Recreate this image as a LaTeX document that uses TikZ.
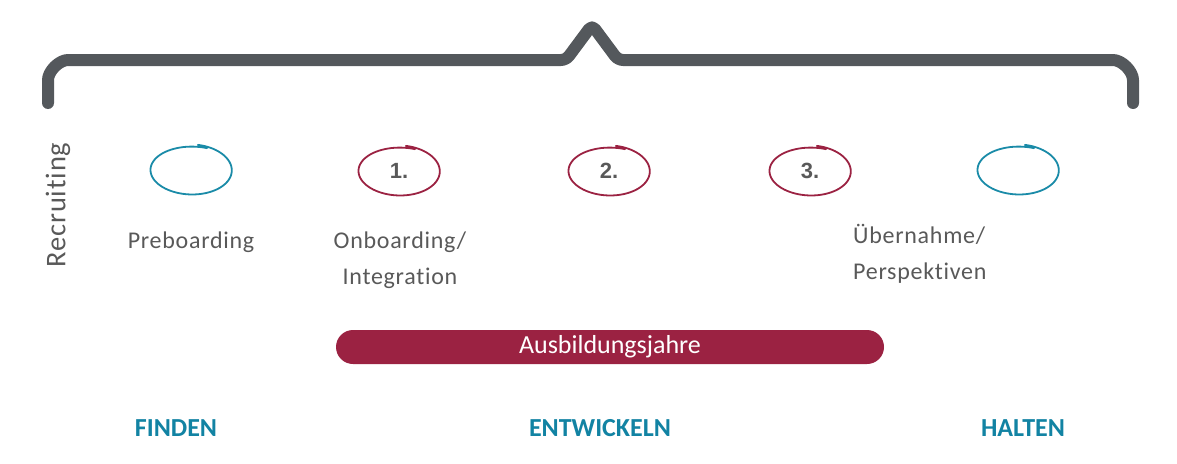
\documentclass[tikz,border=0pt]{standalone}
\usepackage{fontspec}
\setmainfont{Carlito}
\newfontfamily\lblfont[LetterSpace=3, Ligatures=NoCommon]{Carlito}
\newfontfamily\numfont{Liberation Sans}
\definecolor{bracegray}{HTML}{54585C}
\definecolor{txtgray}{HTML}{595959}
\definecolor{tealblue}{HTML}{1A8BA8}
\definecolor{headblue}{HTML}{1283A3}
\definecolor{crimson}{HTML}{9B2242}
\tikzset{
  bracestyle/.style={draw=bracegray, line width=12pt, line cap=round, line join=round, rounded corners=5pt},
  lbl/.style={text=txtgray, font=\lblfont\fontsize{24}{36}\selectfont, align=center, inner sep=0pt},
  num/.style={text=txtgray, font=\numfont\bfseries\fontsize{22}{24}\selectfont, inner sep=0pt},
  head/.style={text=headblue, font=\bfseries\fontsize{26}{28}\selectfont, inner sep=0pt},
  hand/.style={line width=1.8pt, line cap=round, line join=round},
}
\newcommand{\handoval}[2]{%
  \begin{scope}[shift={(#1)}]
    \draw[hand, draw=#2] plot[domain=-80:290, samples=80, smooth, variable=\t]
      ({(40+0.006*(\t+80))*cos(\t) + 0.004*(\t+80)}, {(25.5-0.006*(\t+80))*sin(\t)});
  \end{scope}}
\begin{document}
\begin{tikzpicture}[x=1pt, y=-1pt]
\useasboundingbox (0,0) rectangle (1177,463);
% brace
\draw[bracestyle] (48,103) -- (48,85) arc[start angle=180, end angle=270, radius=25] -- (566,60) -- (592,25) -- (618,60) -- (1108,60) arc[start angle=270, end angle=360, radius=25] -- (1133,103);
% vertical label
\node[text=txtgray, font=\lblfont\fontsize{28.5}{30}\selectfont, rotate=90, inner sep=0pt] (recr) at (58,205) {Recruiting};
% number nodes
\node[inner sep=0pt, minimum size=1pt] (c0) at (191,170) {};
\node[num] (c1) at (399,171) {1.};
\node[num] (c2) at (609,171) {2.};
\node[num] (c3) at (810,171) {3.};
\node[inner sep=0pt, minimum size=1pt] (c4) at (1018,170) {};
\handoval{c0.center}{tealblue}
\handoval{c1.center}{crimson}
\handoval{c2.center}{crimson}
\handoval{c3.center}{crimson}
\handoval{c4.center}{tealblue}
% labels
\node[lbl] (pre) at (191,242) {Preboarding};
\node[lbl] (onb) at (400,260) {Onboarding/\\Integration};
\node[lbl, align=left, anchor=west] (ueb) at (853,254) {Übernahme/\\Perspektiven};
% bar
\node[fill=crimson, rounded corners=17pt, minimum width=548pt, minimum height=34pt, inner sep=0pt, text=white, font=\fontsize{26}{28}\selectfont] (bar) at (610,347) {Ausbildungsjahre};
% headings
\node[head] (finden) at (176,428) {FINDEN};
\node[head] (entw) at (600,428) {ENTWICKELN};
\node[head] (halten) at (1023,428) {HALTEN};
\end{tikzpicture}
\end{document}
